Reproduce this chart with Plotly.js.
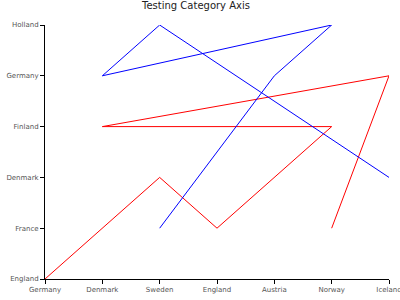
<!DOCTYPE html>
<html>
<head>
<meta charset="utf-8">
<script src="https://cdn.plot.ly/plotly-3.0.1.min.js"></script>
<style>html,body{margin:0;padding:0;background:#fff}#chart{width:400px;height:300px}</style>
</head>
<body>
<div id="chart"></div>
<script>
var xCategories = ["Germany", "Denmark", "Sweden", "England", "Austria", "Norway", "Iceland"];
var yCategories = ["England", "France", "Denmark", "Finland", "Germany", "Holland"];
var redX = ["Germany", "Sweden", "England", "Norway", "Denmark", "Iceland", "Norway"];
var redY = ["England", "Denmark", "France", "Finland", "Finland", "Germany", "France"];
var blueX = ["Sweden", "Austria", "Norway", "Denmark", "Sweden", "Iceland"];
var blueY = ["France", "Germany", "Holland", "Germany", "Holland", "Denmark"];

var traces = [
  {x: redX, y: redY, type: "scatter", mode: "lines", line: {color: "#ff0000", width: 1}, hoverinfo: "none"},
  {x: blueX, y: blueY, type: "scatter", mode: "lines", line: {color: "#0000ff", width: 1}, hoverinfo: "none"}
];
var axisCommon = {
  type: "category", showgrid: false, zeroline: false, showline: true,
  linecolor: "#000", linewidth: 1, ticks: "outside", ticklen: 4, tickwidth: 1, tickcolor: "#000",
  tickfont: {family: "DejaVu Sans", size: 7, color: "#555"}
};
var layout = {
  width: 400, height: 300,
  margin: {l: 45, r: 11, t: 25, b: 21},
  paper_bgcolor: "#fff", plot_bgcolor: "#fff",
  showlegend: false,
  font: {family: "DejaVu Sans", size: 7, color: "#555"},
  title: {text: "Testing Category Axis", font: {family: "DejaVu Sans", size: 10, color: "#222"}, x: 0.49, xanchor: "center", y: 0.995, yanchor: "top"},
  xaxis: Object.assign({}, axisCommon, {categoryorder: "array", categoryarray: xCategories, range: [0, xCategories.length - 1], ticklabelstandoff: 0}),
  yaxis: Object.assign({}, axisCommon, {categoryorder: "array", categoryarray: yCategories, range: [0, yCategories.length - 1]})
};
Plotly.newPlot("chart", traces, layout, {staticPlot: true, displayModeBar: false});
</script>
</body>
</html>
